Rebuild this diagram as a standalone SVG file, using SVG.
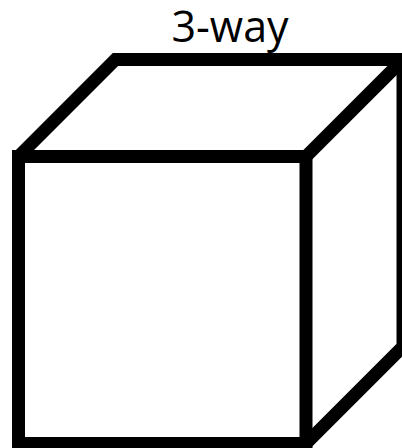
<svg xmlns="http://www.w3.org/2000/svg" width="402" height="448" viewBox="0 0 402 448">
<style>
.edge{fill:none;stroke:#000;stroke-width:13;stroke-linejoin:miter;stroke-miterlimit:10}
.lbl{font-family:"Open Sans","Liberation Sans",sans-serif;font-size:43px;fill:#000;text-anchor:middle}
</style>
<rect width="402" height="448" fill="#fff"/>
<g id="title"><text class="lbl" x="230" y="41.5">3-way</text></g>
<g id="cube">
<path class="edge" d="M18.5,156.5 L115.5,59.5 L403,59.5 L403,346.5 L306,443.5"/>
<path class="edge" d="M306,156.5 L403,59.5"/>
<rect class="edge" x="18.5" y="156.5" width="287.5" height="287"/>
</g>
</svg>
